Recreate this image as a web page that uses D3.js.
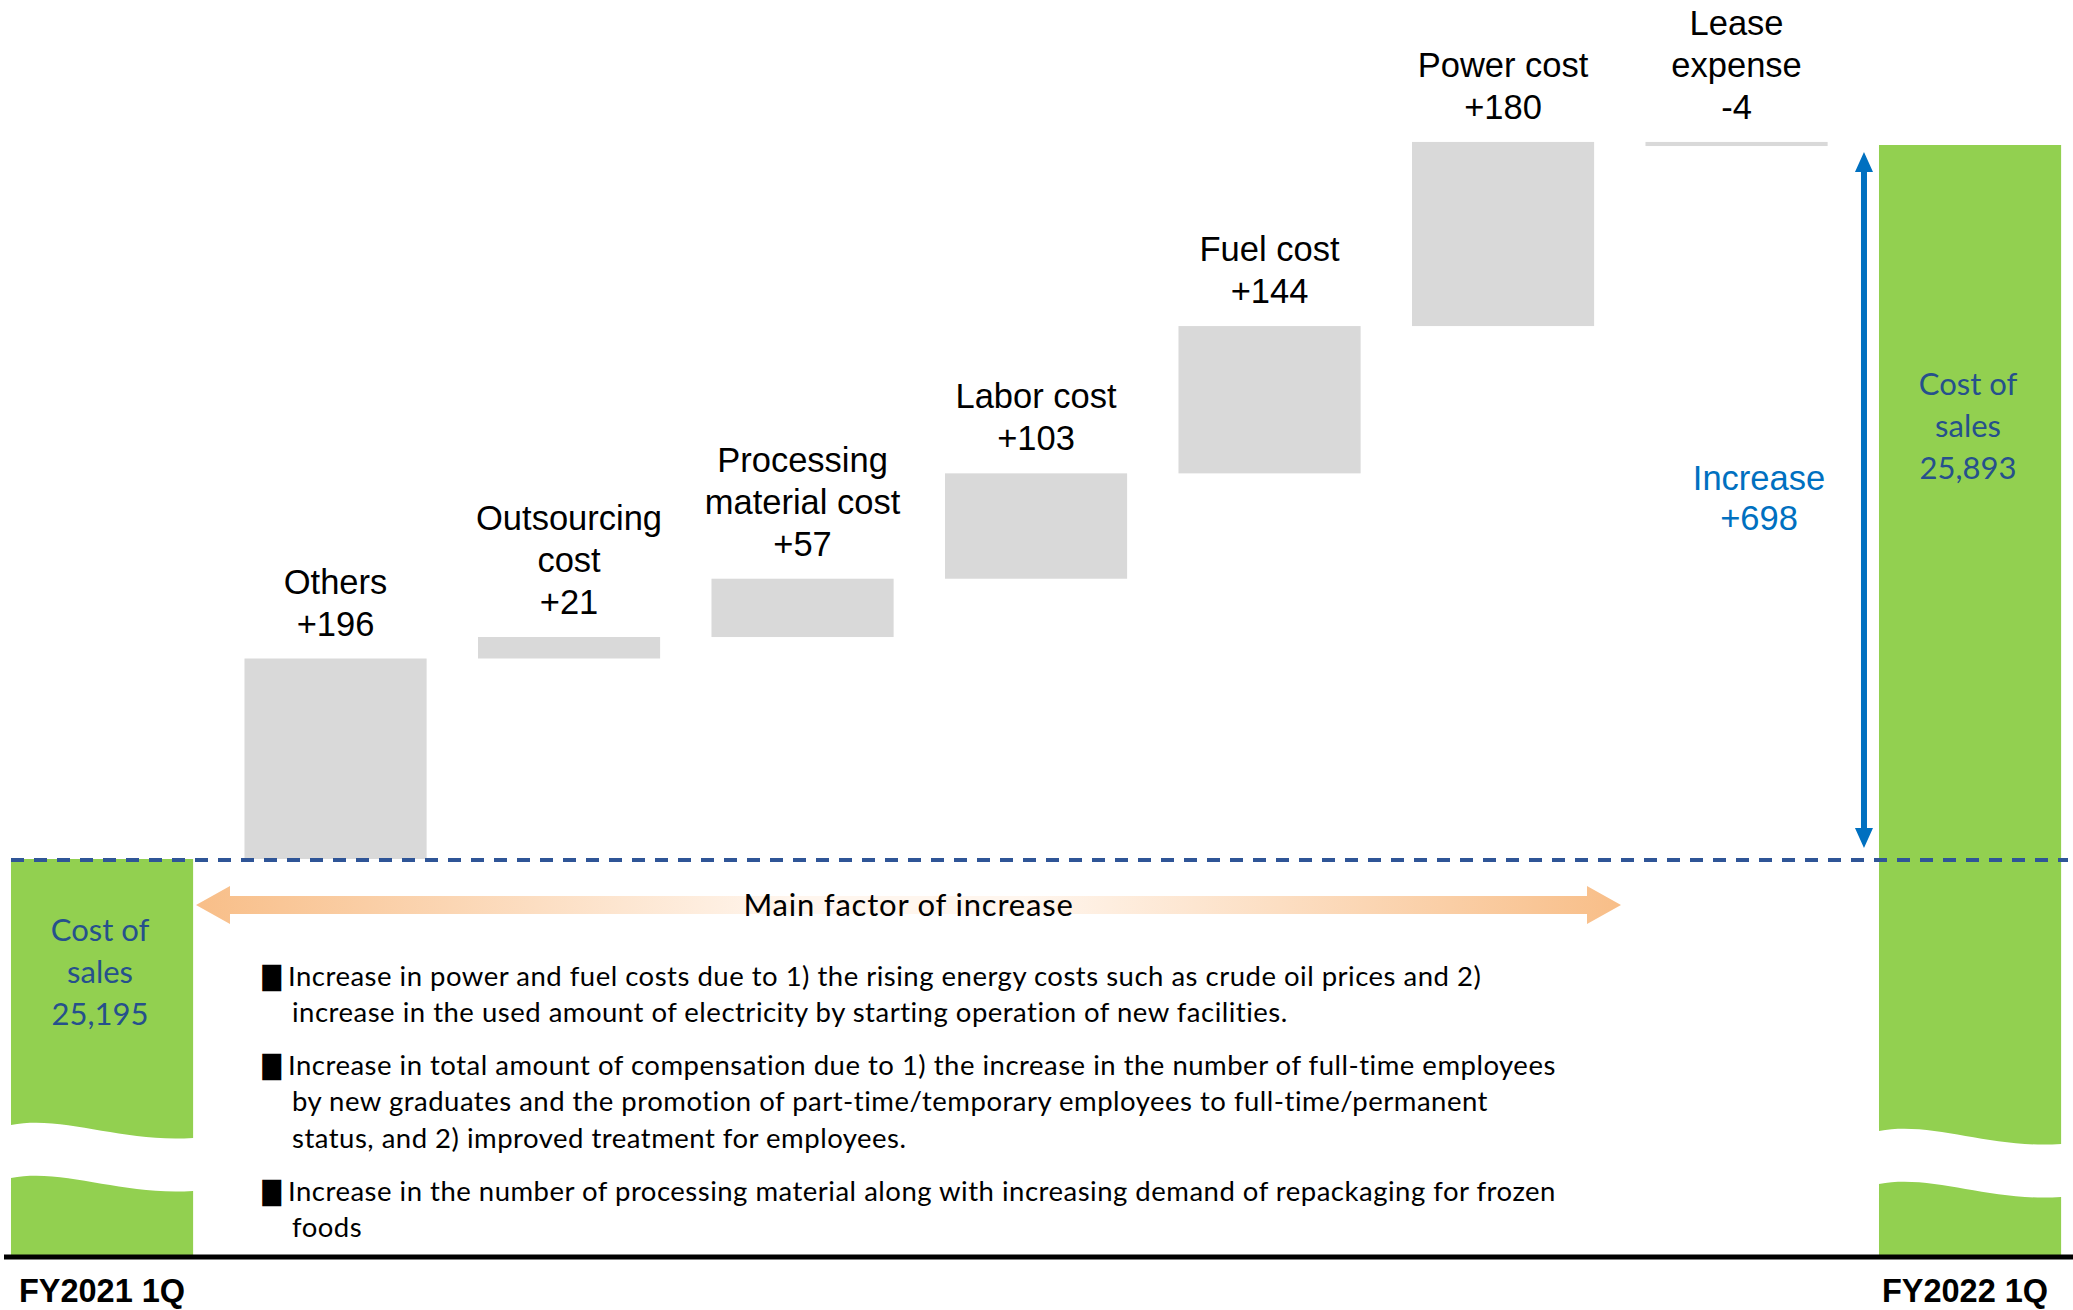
<!DOCTYPE html>
<html>
<head>
<meta charset="utf-8">
<script src="https://cdn.jsdelivr.net/npm/d3@7"></script>
<style>
  html, body { margin: 0; padding: 0; background: #fff; }
  svg { display: block; }
</style>
</head>
<body>
<svg id="chart" width="2073" height="1310"></svg>
<script>
// cost of sales bridge, FY2021 1Q -> FY2022 1Q

const categories = ["FY2021 1Q", "Others", "Outsourcing cost", "Processing material cost",
                    "Labor cost", "Fuel cost", "Power cost", "Lease expense", "FY2022 1Q"];
const stepLabels = [["Others"], ["Outsourcing", "cost"], ["Processing", "material cost"],
                    ["Labor cost"], ["Fuel cost"], ["Power cost"], ["Lease", "expense"]];
const startValue = 25195;
const endValue = 25893;
const deltas = [196, 21, 57, 103, 144, 180, -4];
const totalLabel = ["Cost of", "sales"];
const increaseLabel = "Increase";
const factorTitle = "Main factor of increase";
const notes = [
  ["Increase in power and fuel costs due to 1) the rising energy costs such as crude oil prices and 2)",
   "increase in the used amount of electricity by starting operation of new facilities."],
  ["Increase in total amount of compensation due to 1) the increase in the number of full-time employees",
   "by new graduates and the promotion of part-time/temporary employees to full-time/permanent",
   "status, and  2) improved treatment for employees."],
  ["Increase in the number of processing material along with increasing demand of repackaging for frozen",
   "foods"]
];

const svg = d3.select("#chart");
const W = 2073, baseY = 1257;
const green = "#92D050", grey = "#D9D9D9", blue = "#0070C0", navy = "#26508C";
const arial = "'Liberation Sans', Arial, sans-serif";
const calibri = "Lato, 'Open Sans', sans-serif";

let x = d3.scaleBand()
    .domain(categories)
    .range([-14.7, 2086.8])
    .paddingInner(0.22)
    .paddingOuter(0.11);
let y = d3.scaleLinear()
    .domain([startValue, endValue])
    .range([859, 145]);
let bw = x.bandwidth();
let fmt = d3.format("+,");
let fmtTotal = d3.format(",");

// running totals for the floating bars
let steps = [];
let running = startValue;
deltas.forEach((d, i) => {
  steps.push({cat: categories[i + 1], from: running, to: running + d, delta: d, lines: stepLabels[i]});
  running += d;
});

// green total bars with the axis break
function breakPieces(x0, w, top, bottom, bY) {
  const gap = 53;
  let upper = `M${x0},${top}H${x0 + w}V${bY + 13}` +
    `C${x0 + 0.6 * w},${bY + 18} ${x0 + 0.3 * w},${bY - 10} ${x0},${bY}Z`;
  let g = bY + gap;
  let lower = `M${x0},${g}C${x0 + 0.3 * w},${g - 10} ${x0 + 0.6 * w},${g + 18} ${x0 + w},${g + 13}` +
    `V${bottom}H${x0}Z`;
  return [upper, lower];
}

let totals = [
  {cat: categories[0], value: startValue, bY: 1125, labelOffset: 82},
  {cat: categories[8], value: endValue, bY: 1131, labelOffset: 250}
];

totals.forEach(t => {
  breakPieces(x(t.cat), bw, y(t.value), baseY - 2, t.bY).forEach(p => {
    svg.append("path").attr("d", p).attr("fill", green);
  });
  let lab = svg.append("text")
      .attr("text-anchor", "middle")
      .attr("font-family", calibri)
      .attr("font-size", 31)
      .attr("fill", navy);
  totalLabel.concat([fmtTotal(t.value)]).forEach((s, j) => {
    lab.append("tspan")
      .attr("x", x(t.cat) + bw / 2 - 2)
      .attr("y", y(t.value) + t.labelOffset + j * 42)
      .text(s);
  });
});

// floating bars
svg.selectAll("rect.step")
  .data(steps)
  .enter()
  .append("rect")
  .attr("class", "step")
  .attr("x", d => x(d.cat))
  .attr("width", bw)
  .attr("y", d => y(Math.max(d.from, d.to)))
  .attr("height", d => Math.abs(y(d.from) - y(d.to)))
  .attr("fill", grey);

svg.selectAll("text.step")
  .data(steps)
  .enter()
  .append("text")
  .attr("class", "step")
  .attr("text-anchor", "middle")
  .attr("font-family", arial)
  .attr("font-size", 34.5)
  .attr("fill", "#000")
  .each(function(d) {
    let lines = d.lines.concat([d.delta > 0 ? fmt(d.delta) : String(d.delta)]);
    let bottom = y(Math.max(d.from, d.to)) - 23;
    d3.select(this).selectAll("tspan")
      .data(lines)
      .enter()
      .append("tspan")
      .attr("x", x(d.cat) + bw / 2)
      .attr("y", (s, j) => bottom - (lines.length - 1 - j) * 42)
      .text(s => s);
  });

// dashed reference at the starting level
svg.append("line")
  .attr("x1", 11).attr("x2", 2068)
  .attr("y1", y(startValue) + 1).attr("y2", y(startValue) + 1)
  .attr("stroke", "#2F5597")
  .attr("stroke-width", 4)
  .attr("stroke-dasharray", "13,10");

// baseline
svg.append("line")
  .attr("x1", 4).attr("x2", W)
  .attr("y1", baseY).attr("y2", baseY)
  .attr("stroke", "#000")
  .attr("stroke-width", 5);

svg.selectAll("text.cat")
  .data([categories[0], categories[8]])
  .enter()
  .append("text")
  .attr("class", "cat")
  .attr("x", (d, i) => x(d) + bw / 2 - i * 5)
  .attr("y", 1302)
  .attr("text-anchor", "middle")
  .attr("font-family", arial)
  .attr("font-weight", "bold")
  .attr("font-size", 32.5)
  .text(d => d);

// blue double arrow for the total change
let ax = x(categories[8]) - 15;
let aTop = y(endValue) + 7, aBot = y(startValue) - 11;
svg.append("rect")
  .attr("x", ax - 3).attr("width", 6)
  .attr("y", aTop + 16).attr("height", aBot - aTop - 32)
  .attr("fill", blue);
svg.append("path")
  .attr("d", `M${ax},${aTop}L${ax + 9},${aTop + 20}L${ax - 9},${aTop + 20}Z` +
             `M${ax},${aBot}L${ax + 9},${aBot - 20}L${ax - 9},${aBot - 20}Z`)
  .attr("fill", blue);

let mid = (y(startValue) + y(endValue)) / 2;
let inc = svg.append("text")
  .attr("text-anchor", "middle")
  .attr("font-family", arial)
  .attr("font-size", 34.5)
  .attr("fill", blue);
[increaseLabel, fmt(endValue - startValue)].forEach((s, j) => {
  inc.append("tspan").attr("x", ax - 105).attr("y", mid - 12 + j * 40).text(s);
});

// orange gradient double arrow
let grad = svg.append("defs").append("linearGradient")
  .attr("id", "factorGrad")
  .attr("x1", "0%").attr("x2", "100%");
[[0, "#F8BE88"], [0.42, "#FFF6EE"], [0.58, "#FFF6EE"], [1, "#F8BE88"]].forEach(s => {
  grad.append("stop").attr("offset", s[0]).attr("stop-color", s[1]);
});
let fx0 = 196, fx1 = 1621, fy = 905;
svg.append("path")
  .attr("d", `M${fx0},${fy}L${fx0 + 34},${fy - 19}V${fy - 9}H${fx1 - 34}V${fy - 19}` +
             `L${fx1},${fy}L${fx1 - 34},${fy + 19}V${fy + 9}H${fx0 + 34}V${fy + 19}Z`)
  .attr("fill", "url(#factorGrad)");
svg.append("text")
  .attr("x", (fx0 + fx1) / 2)
  .attr("y", fy + 11)
  .attr("text-anchor", "middle")
  .attr("font-family", calibri)
  .attr("font-size", 31)
  .attr("letter-spacing", 0.8)
  .text(factorTitle);

// bullet notes
let ny = 986;
notes.forEach(par => {
  par.forEach((line, j) => {
    if (j === 0) {
      svg.append("text")
        .attr("transform", `translate(260,${ny + 1}) scale(0.78,1.08)`)
        .attr("font-family", "'DejaVu Sans'")
        .attr("font-size", 32)
        .text("■");
    }
    svg.append("text")
      .attr("x", j === 0 ? 288 : 292)
      .attr("y", ny)
      .attr("font-family", calibri)
      .attr("font-size", 27.5)
      .attr("letter-spacing", 0.5)
      .attr("fill", "#000")
      .text(line);
    ny += 36.3;
  });
  ny += 16.5;
});
</script>
</body>
</html>
